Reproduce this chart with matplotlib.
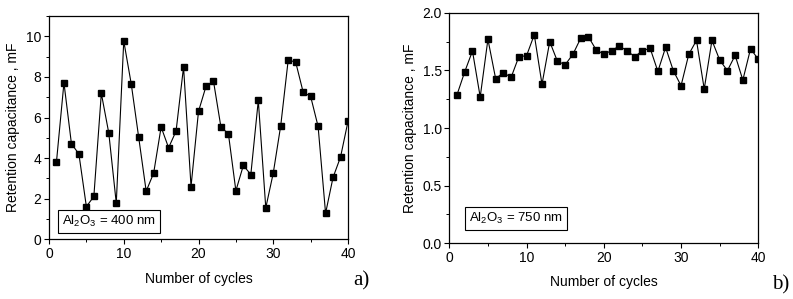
import matplotlib
matplotlib.use("Agg")
import matplotlib.pyplot as plt
from matplotlib.ticker import MultipleLocator, FormatStrFormatter

plt.rcParams['font.family'] = ['Liberation Sans', 'DejaVu Sans']
plt.rcParams['mathtext.default'] = 'regular'

cycles = list(range(1, 41))
cap_400 = [3.82, 7.71, 4.71, 4.20, 1.61, 2.11, 7.19, 5.23, 1.78, 9.77,
           7.66, 5.02, 2.37, 3.26, 5.53, 4.51, 5.33, 8.49, 2.60, 6.30,
           7.53, 7.80, 5.53, 5.20, 2.39, 3.64, 3.19, 6.84, 1.55, 3.26,
           5.60, 8.83, 8.73, 7.25, 7.04, 5.56, 1.28, 3.05, 4.05, 5.81]
cap_750 = [1.289, 1.488, 1.668, 1.269, 1.769, 1.428, 1.480, 1.439, 1.618, 1.627,
           1.809, 1.379, 1.749, 1.578, 1.549, 1.639, 1.777, 1.792, 1.679, 1.639,
           1.671, 1.711, 1.671, 1.618, 1.671, 1.691, 1.491, 1.699, 1.497, 1.367,
           1.639, 1.760, 1.338, 1.760, 1.590, 1.497, 1.630, 1.416, 1.688, 1.595]

xlabel = "Number of cycles"
ylabel = "Retention capacitance , mF"
label_400 = r"Al$_2$O$_3$ = 400 nm"
label_750 = r"Al$_2$O$_3$ = 750 nm"

W, H = 793, 299
fig = plt.figure(figsize=(W / 100, H / 100), dpi=100)

def axes_px(l, r, t, b):
    return fig.add_axes([l / W, 1 - b / H, (r - l) / W, (b - t) / H])

ax1 = axes_px(49, 348, 16, 239.3)
ax2 = axes_px(449.3, 758.3, 12.7, 243.3)

def style(ax, data, ylim, ymaj, ymin, label, boxpos, xpad):
    ax.plot(cycles, data, color='black', lw=0.8, marker='s',
            markersize=4.6, markerfacecolor='black', markeredgecolor='black')
    ax.set_xlim(0, 40)
    ax.set_ylim(*ylim)
    ax.xaxis.set_major_locator(MultipleLocator(10))
    ax.xaxis.set_minor_locator(MultipleLocator(5))
    ax.yaxis.set_major_locator(MultipleLocator(ymaj))
    ax.yaxis.set_minor_locator(MultipleLocator(ymin))
    ax.tick_params(which='major', direction='out', length=3.5, width=0.8,
                   labelsize=10, pad=2)
    ax.tick_params(which='minor', direction='out', length=2, width=0.7)
    ax.tick_params(top=False, right=False)
    for s in ax.spines.values():
        s.set_linewidth(0.9)
    ax.set_xlabel(xlabel, fontsize=10, labelpad=xpad)
    ax.set_ylabel(ylabel, fontsize=10, labelpad=4)
    ax.text(boxpos[0], boxpos[1], label, transform=ax.transAxes, fontsize=9.5,
            ha='left', va='bottom',
            bbox=dict(boxstyle='square,pad=0.3', facecolor='white',
                      edgecolor='black', linewidth=0.8))

style(ax1, cap_400, (0, 11), 2, 1, label_400, (0.045, 0.045), 8)
style(ax2, cap_750, (0, 2.0), 0.5, 0.25, label_750, (0.065, 0.075), 7)
ax2.yaxis.set_major_formatter(FormatStrFormatter('%.1f'))

fig.text(361 / W, 1 - 281 / H, "a)", fontsize=15, family='Liberation Serif',
         ha='center', va='center')
fig.text(781 / W, 1 - 285 / H, "b)", fontsize=15, family='Liberation Serif',
         ha='center', va='center')

fig.savefig("out.png", dpi=100)
